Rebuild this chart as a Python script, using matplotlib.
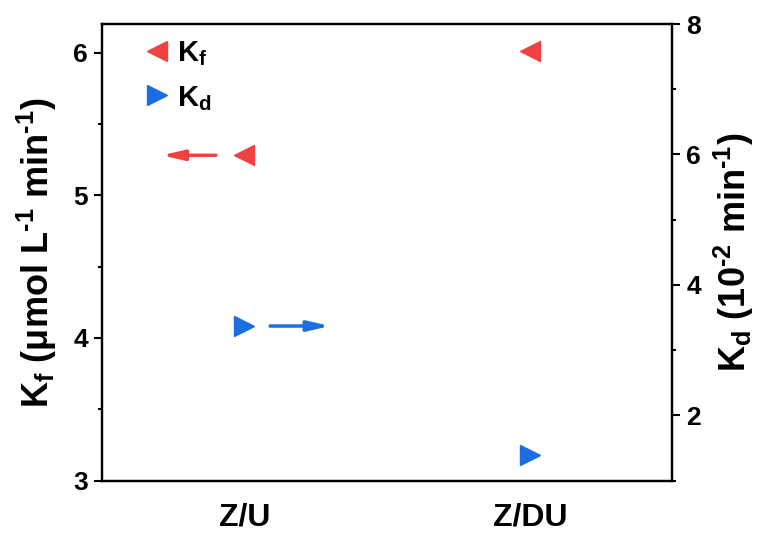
import numpy as np
import matplotlib
matplotlib.use("Agg")
import matplotlib.pyplot as plt
from matplotlib.ticker import MultipleLocator

plt.rcParams['font.family'] = ['Liberation Sans', 'DejaVu Sans']
plt.rcParams['font.weight'] = 'bold'
plt.rcParams['axes.labelweight'] = 'bold'
plt.rcParams['mathtext.fontset'] = 'custom'
plt.rcParams['mathtext.rm'] = 'Liberation Sans:bold'
plt.rcParams['mathtext.it'] = 'Liberation Sans:bold'
plt.rcParams['mathtext.bf'] = 'Liberation Sans:bold'

# data
samples = ["Z/U", "Z/DU"]
kf = [5.28, 6.01]     # umol L-1 min-1 (left axis)
kd = [3.37, 1.39]     # 10^-2 min-1 (right axis)

red = "#F04242"
blue = "#1C6EE0"

x = np.arange(1, len(samples) + 1)

fig = plt.figure(figsize=(7.65, 5.34), dpi=100)
ax = fig.add_axes([0.133, 0.1, 0.746, 0.855])
ax2 = ax.twinx()

l1, = ax.plot(x, kf, linestyle="none", marker="<", ms=15, color=red, mec=red, label="K$_\\mathrm{f}$")
l2, = ax2.plot(x, kd, linestyle="none", marker=">", ms=15, color=blue, mec=blue, label="K$_\\mathrm{d}$")

ax.set_xlim(0.5, 2.5)
ax.set_ylim(3, 6.2)
ax2.set_ylim(1, 8)

ax.set_xticks(x)
ax.set_xticklabels(samples)
ax.tick_params(axis="x", length=0, labelsize=23, pad=16)
ax.yaxis.set_major_locator(MultipleLocator(1))
ax.yaxis.set_minor_locator(MultipleLocator(0.5))
ax2.yaxis.set_major_locator(MultipleLocator(2))
ax2.yaxis.set_minor_locator(MultipleLocator(1))
for a in (ax, ax2):
    a.tick_params(axis="y", which="major", length=6, width=1.5, labelsize=19, direction="out", pad=4)
    a.tick_params(axis="y", which="minor", length=3, width=1.5, direction="out")
    for s in a.spines.values():
        s.set_linewidth(1.6)

ax.set_ylabel("K$_\\mathrm{f}$ (μmol L$^{\u20101}$ min$^{\u20101}$)", fontsize=26, labelpad=10)
ax2.set_ylabel("K$_\\mathrm{d}$ (10$^{\u20102}$ min$^{\u20101}$)", fontsize=26, labelpad=8)

# arrows pointing to the matching axis
ax.annotate("", xy=(x[0] - 0.29, kf[0]), xytext=(x[0] - 0.1, kf[0]),
            arrowprops=dict(arrowstyle="-|>,head_length=1.3,head_width=0.3", color=red, lw=2.5, shrinkA=0, shrinkB=0))
ax2.annotate("", xy=(x[0] + 0.3, kd[0]), xytext=(x[0] + 0.09, kd[0]),
             arrowprops=dict(arrowstyle="-|>,head_length=1.3,head_width=0.3", color=blue, lw=2.5, shrinkA=0, shrinkB=0))

ax.legend(handles=[l1, l2], loc="upper left", frameon=False, fontsize=21,
          handletextpad=0.2, borderaxespad=0.5, labelspacing=0.55, handlelength=1.0,
          bbox_to_anchor=(0.025, 1.025))

fig.savefig("out.png", dpi=100)
